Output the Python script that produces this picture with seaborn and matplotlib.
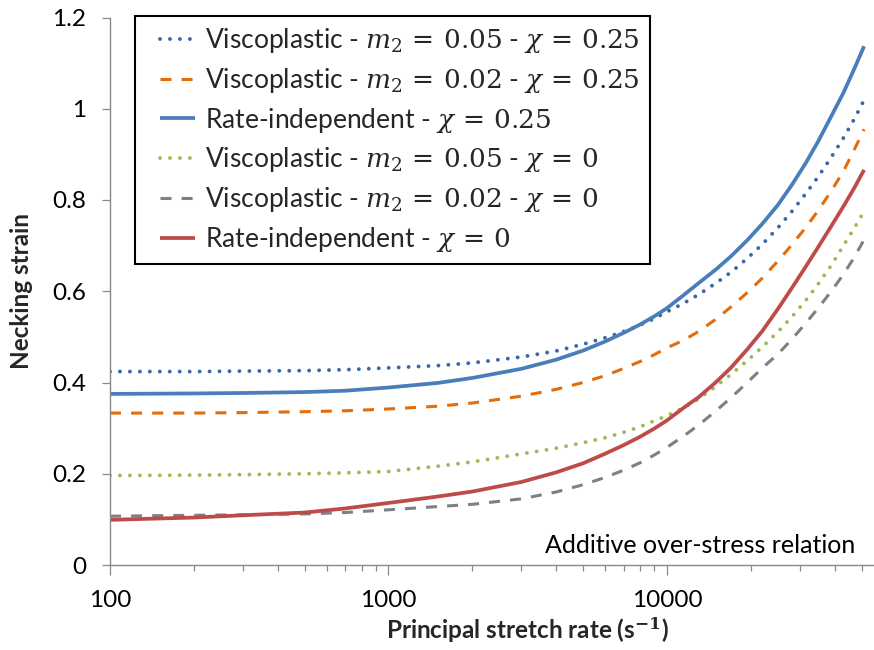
import numpy as np
import pandas as pd
import matplotlib
matplotlib.use("Agg")
import matplotlib.pyplot as plt
from matplotlib.ticker import FixedLocator, LogLocator, NullFormatter
from matplotlib.legend_handler import HandlerLine2D
import seaborn as sns

# Principal stretch rate (1/s) at which the necking strain was evaluated
rates = [100, 200, 300, 500, 700, 1000, 1500, 2000, 3000, 4000, 5000, 6000,
         7000, 8000, 9000, 10000, 11500, 13000, 15000, 17000, 19500, 22000,
         25000, 28000, 31500, 35000, 39000, 43000, 47000, 51000]

# Necking strain for each model
vp005_chi025 = [0.424, 0.424, 0.425, 0.426, 0.428, 0.432, 0.437, 0.443, 0.456,
                0.469, 0.484, 0.498, 0.512, 0.526, 0.540, 0.555, 0.574, 0.593,
                0.618, 0.642, 0.673, 0.703, 0.739, 0.774, 0.814, 0.852, 0.895,
                0.936, 0.977, 1.019]
vp002_chi025 = [0.333, 0.333, 0.334, 0.336, 0.338, 0.342, 0.348, 0.355, 0.370,
                0.385, 0.400, 0.415, 0.431, 0.446, 0.461, 0.476, 0.493, 0.512,
                0.539, 0.566, 0.598, 0.629, 0.666, 0.701, 0.740, 0.778, 0.821,
                0.863, 0.910, 0.955]
ri_chi025 = [0.375, 0.376, 0.377, 0.379, 0.382, 0.389, 0.399, 0.410, 0.430,
             0.450, 0.470, 0.490, 0.509, 0.527, 0.545, 0.563, 0.592, 0.618,
             0.648, 0.677, 0.713, 0.748, 0.789, 0.832, 0.881, 0.930, 0.985,
             1.035, 1.087, 1.137]
vp005_chi0 = [0.196, 0.197, 0.198, 0.200, 0.202, 0.205, 0.2165, 0.226, 0.2435,
              0.256, 0.268, 0.279, 0.291, 0.303, 0.316, 0.327, 0.345, 0.364,
              0.392, 0.418, 0.449, 0.478, 0.511, 0.543, 0.580, 0.617, 0.658,
              0.700, 0.738, 0.775]
vp002_chi0 = [0.107, 0.109, 0.110, 0.112, 0.115, 0.121, 0.128, 0.133, 0.145,
              0.160, 0.176, 0.192, 0.208, 0.224, 0.241, 0.258, 0.283, 0.307,
              0.338, 0.367, 0.401, 0.432, 0.462, 0.494, 0.530, 0.564, 0.601,
              0.637, 0.674, 0.713]
ri_chi0 = [0.099, 0.104, 0.109, 0.115, 0.124, 0.136, 0.150, 0.161, 0.182,
           0.203, 0.223, 0.244, 0.263, 0.281, 0.299, 0.317, 0.345, 0.368,
           0.401, 0.433, 0.474, 0.513, 0.561, 0.606, 0.654, 0.698, 0.744,
           0.786, 0.826, 0.866]

labels = [
    r"Viscoplastic - $m_2\,=\,0.05$ - $\chi\,=\,0.25$",
    r"Viscoplastic - $m_2\,=\,0.02$ - $\chi\,=\,0.25$",
    r"Rate-independent - $\chi\,=\,0.25$",
    r"Viscoplastic - $m_2\,=\,0.05$ - $\chi\,=\,0$",
    r"Viscoplastic - $m_2\,=\,0.02$ - $\chi\,=\,0$",
    r"Rate-independent - $\chi\,=\,0$",
]
series = [vp005_chi025, vp002_chi025, ri_chi025, vp005_chi0, vp002_chi0, ri_chi0]

y_ticks = [0, 0.2, 0.4, 0.6, 0.8, 1.0, 1.2]
y_tick_labels = ["0", "0.2", "0.4", "0.6", "0.8", "1", "1.2"]
x_ticks = [100, 1000, 10000]
x_tick_labels = ["100", "1000", "10000"]

styles = [
    dict(color="#3A67A6", lw=2.8, dashes=(0.01, 2.55), cap="round"),
    dict(color="#E46C0A", lw=2.2, dashes=(3.6, 3.3), cap="butt"),
    dict(color="#4A7EBB", lw=2.7, dashes=None, cap="butt"),
    dict(color="#9BBB59", lw=2.8, dashes=(0.01, 2.55), cap="round"),
    dict(color="#808080", lw=2.2, dashes=(3.6, 3.3), cap="butt"),
    dict(color="#BE4B48", lw=2.7, dashes=None, cap="butt"),
]

sns.set_theme(style="white")
plt.rcParams["font.family"] = ["Lato", "DejaVu Sans"]
plt.rcParams["mathtext.fontset"] = "dejavuserif"

fig = plt.figure(figsize=(8.74, 6.5), dpi=100)
# the log axis runs on to 1e5, past the right edge of the canvas
ax = fig.add_axes([110 / 874, 1 - 565 / 650, 835.5 / 874, 547.5 / 650])

handles = []
for vals, lab, st in zip(series, labels, styles):
    df = pd.DataFrame({"rate": rates, "strain": vals})
    n_before = len(ax.lines)
    sns.lineplot(data=df, x="rate", y="strain", ax=ax, color=st["color"],
                 linewidth=st["lw"], label=lab, legend=False)
    line = ax.lines[n_before]
    if st["dashes"] is not None:
        line.set_dashes(st["dashes"])
    line.set_dash_capstyle(st["cap"])
    line.set_solid_capstyle("butt")
    line.set_solid_joinstyle("round")
    handles.append(line)

ax.set_xscale("log")
ax.set_xlim(100, 100000)
ax.set_ylim(0, 1.2)

ax.yaxis.set_major_locator(FixedLocator(y_ticks))
ax.set_yticklabels(y_tick_labels)
ax.xaxis.set_major_locator(FixedLocator(x_ticks))
ax.set_xticklabels(x_tick_labels)
ax.xaxis.set_minor_locator(LogLocator(base=10, subs=np.arange(2, 10)))
ax.xaxis.set_minor_formatter(NullFormatter())

axis_grey = "#898989"
for side in ("top", "right"):
    ax.spines[side].set_visible(False)
for side in ("left", "bottom"):
    ax.spines[side].set_color(axis_grey)
    ax.spines[side].set_linewidth(1.0)

ax.tick_params(axis="y", which="major", direction="out", length=6, width=0.9,
               color=axis_grey, labelsize=17.5, pad=11, labelcolor="black", left=True)
ax.tick_params(axis="x", which="major", direction="out", length=7, width=0.9,
               color=axis_grey, labelsize=17.5, pad=11, labelcolor="black", bottom=True)
ax.tick_params(axis="x", which="minor", direction="out", length=4.5, width=0.9,
               color=axis_grey, bottom=True)
ax.grid(False)

ax.set_ylabel("Necking strain", fontsize=17.5, fontweight="bold", labelpad=14)
ax.set_xlabel(r"Principal stretch rate (s$^{\mathbf{-1}}$)", fontsize=17.5,
              fontweight="bold", labelpad=3)

ax.text(0.8917, 0.022, "Additive over-stress relation", transform=ax.transAxes,
        ha="right", va="baseline", fontsize=18, color="black")

# short legend keys inset from the frame edge
key_handler = HandlerLine2D(xpad=0.56)
leg = ax.legend(handles=handles, labels=labels, loc="upper left",
                bbox_to_anchor=(135 / 874, 1 - 16 / 650),
                bbox_transform=fig.transFigure, fontsize=19, frameon=True,
                fancybox=False, framealpha=1, edgecolor="black",
                handlelength=1.9, handletextpad=0.38, borderpad=0.38,
                labelspacing=0.41, borderaxespad=0,
                handler_map={h: key_handler for h in handles})
leg.get_frame().set_linewidth(1.5)

fig.savefig("out.png", dpi=100)
